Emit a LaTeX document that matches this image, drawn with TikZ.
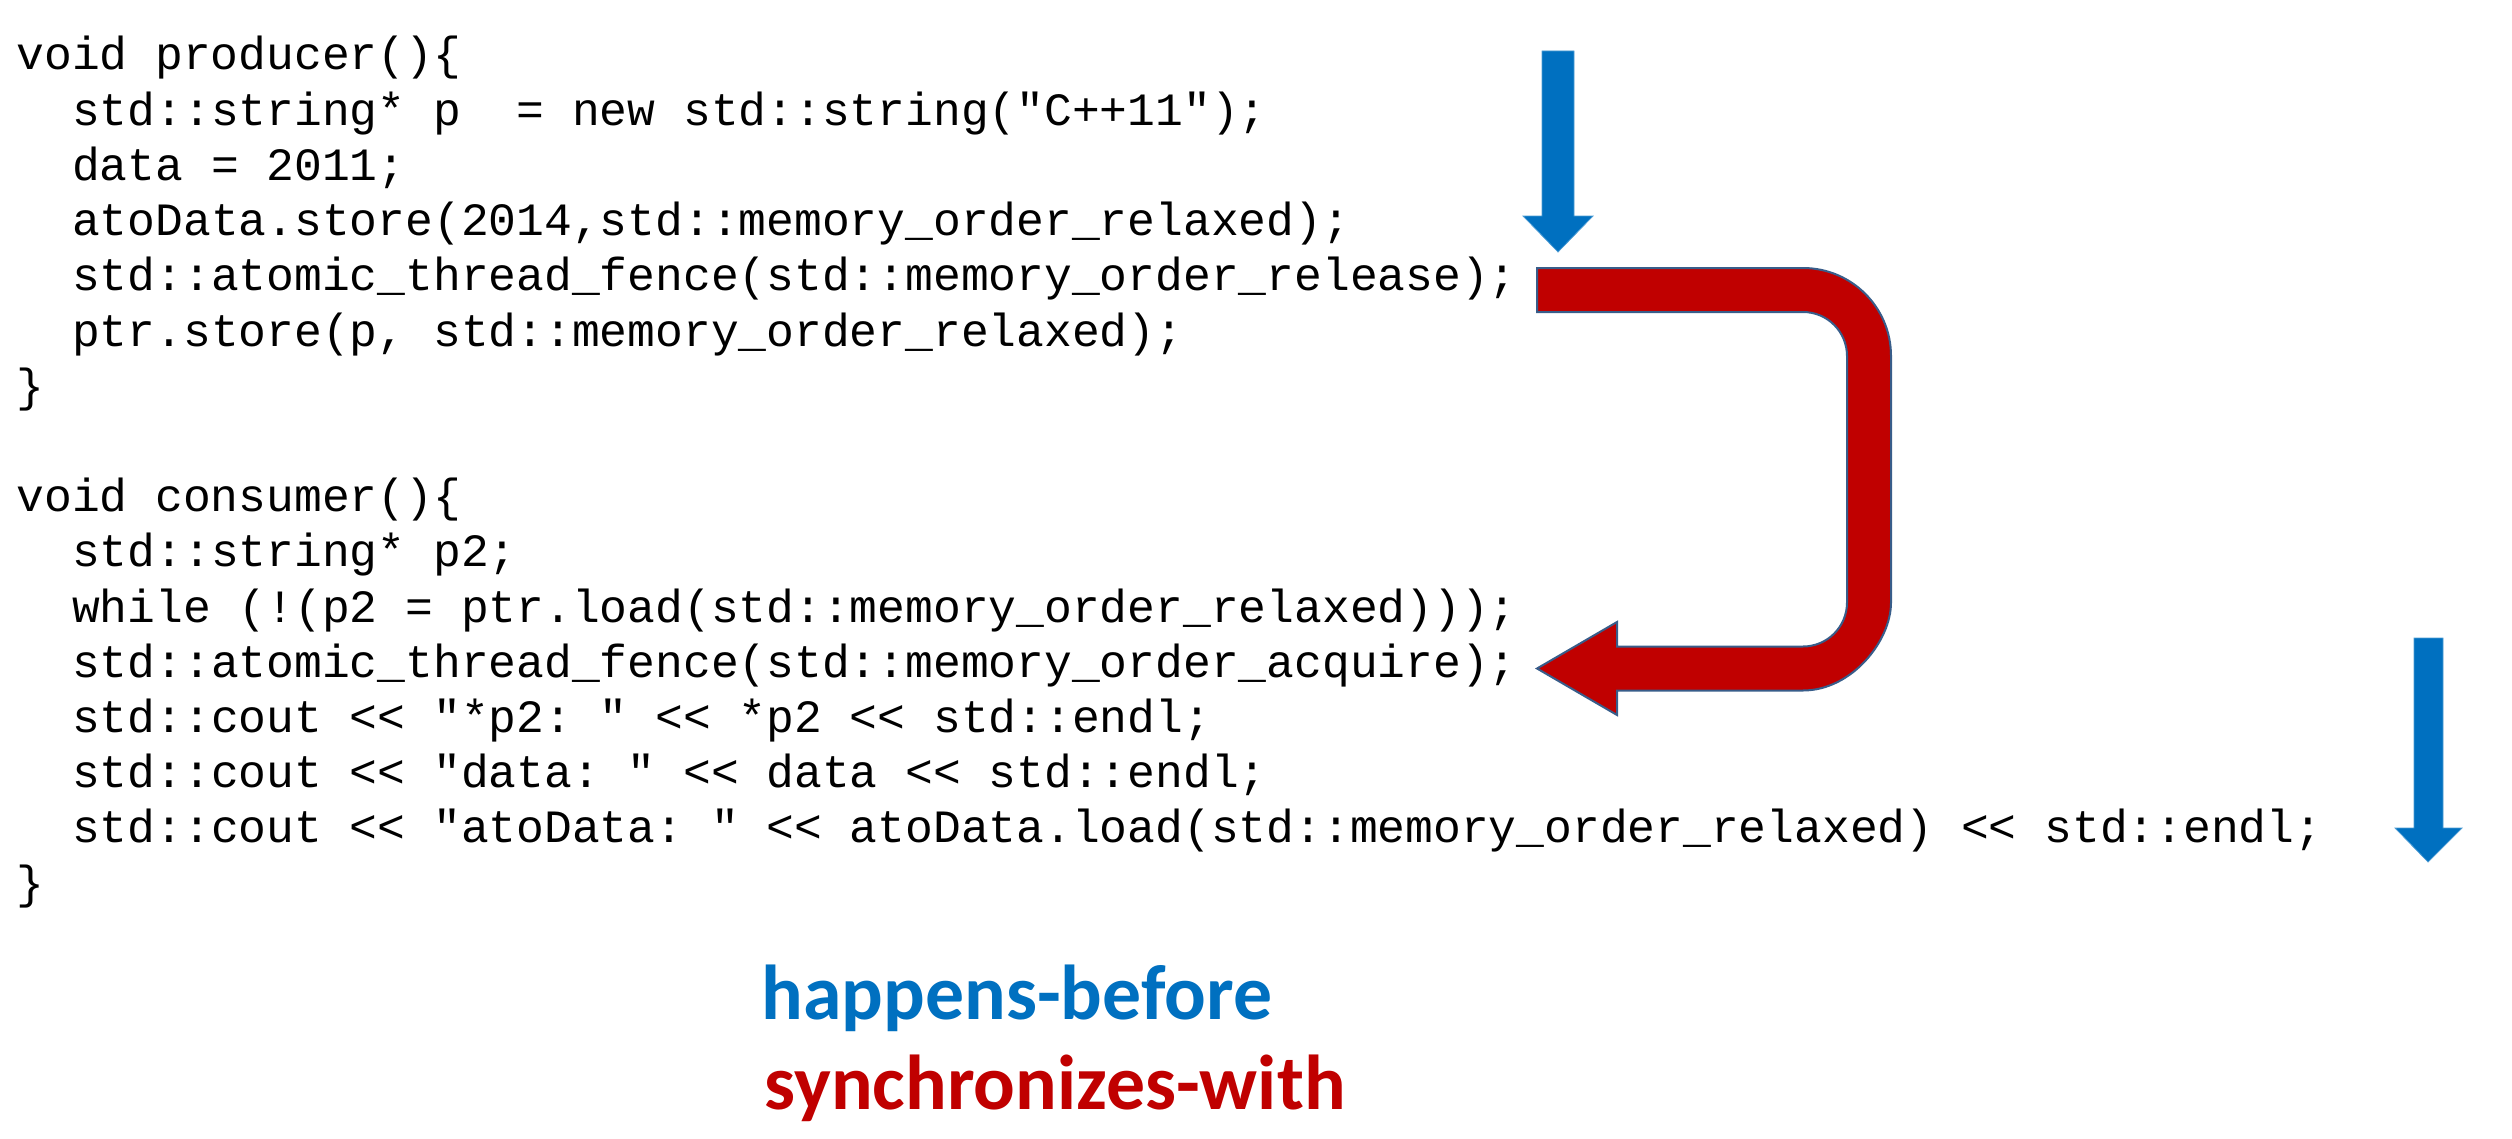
\documentclass[tikz,border=0pt]{standalone}
\usepackage{fontspec}
\newfontfamily\codefont{Liberation Mono}
\newfontfamily\labelfont{Carlito}
\definecolor{hbblue}{HTML}{0070C0}
\definecolor{swred}{HTML}{C00000}
\definecolor{swedge}{HTML}{385D8A}
\frenchspacing
\tikzset{
  codeline/.style={anchor=base west, inner sep=0pt, text=black,
    font=\codefont\fontsize{18.52pt}{22pt}\selectfont},
  legend/.style={anchor=base west, inner sep=0pt,
    font=\labelfont\bfseries\fontsize{31.1pt}{36pt}\selectfont},
  hbarrow/.style={fill=hbblue, draw=hbblue!70, line width=0.3pt},
  swarrow/.style={fill=swred, draw=swedge, line width=0.8pt, line join=miter}
}
\begin{document}
\begin{tikzpicture}[x=0.4pt, y=-0.4pt]
\useasboundingbox (0,0) rectangle (2512,1139);
\def\xa{16}
\def\xb{71.6}
% producer
\node[codeline] (l0)  at (\xa, 70) {void producer()\{};
\node[codeline] (l1)  at (\xb, 125.2) {std::string* p\ \ = new std::string("C++11");};
\node[codeline] (l2)  at (\xb, 180.4) {data = 2011;};
\node[codeline] (l3)  at (\xb, 235.6) {atoData.store(2014,std::memory\_order\_relaxed);};
\node[codeline] (l4)  at (\xb, 290.8) {std::atomic\_thread\_fence(std::memory\_order\_release);};
\node[codeline] (l5)  at (\xb, 346.0) {ptr.store(p, std::memory\_order\_relaxed);};
\node[codeline] (l6)  at (\xa, 401.2) {\}};
% consumer
\node[codeline] (l8)  at (\xa, 511.6) {void consumer()\{};
\node[codeline] (l9)  at (\xb, 566.8) {std::string* p2;};
\node[codeline] (l10) at (\xb, 622.0) {while (!(p2 = ptr.load(std::memory\_order\_relaxed)));};
\node[codeline] (l11) at (\xb, 677.2) {std::atomic\_thread\_fence(std::memory\_order\_acquire);};
\node[codeline] (l12) at (\xb, 732.4) {std::cout << "*p2: " << *p2 << std::endl;};
\node[codeline] (l13) at (\xb, 787.6) {std::cout << "data: " << data << std::endl;};
\node[codeline] (l14) at (\xb, 842.8) {std::cout << "atoData: " << atoData.load(std::memory\_order\_relaxed) << std::endl;};
\node[codeline] (l15) at (\xa, 898.0) {\}};

% happens-before arrows
\draw[hbarrow] (1542,51) -- (1574,51) -- (1574,216) -- (1593,216) -- (1558,252)
  -- (1523,216) -- (1542,216) -- cycle;
\draw[hbarrow] (2414,638) -- (2443,638) -- (2443,828) -- (2462,828) -- (2428,862)
  -- (2395,828) -- (2414,828) -- cycle;

% synchronizes-with arrow
\draw[swarrow] (1537,668.5) -- (1617,622) -- (1617,646.5) -- (1803,646.5)
  .. controls (1827.3,646.5) and (1847,626.8) .. (1847,602.5)
  -- (1847,356)
  .. controls (1847,331.7) and (1827.3,312) .. (1803,312)
  -- (1537,312) -- (1537,268) -- (1803,268)
  .. controls (1851.6,268) and (1891,307.4) .. (1891,356)
  -- (1891,602.5)
  .. controls (1891,641.1) and (1851.6,690.5) .. (1803,690.5)
  -- (1617,690.5) -- (1617,715) -- cycle;

% legend
\node[legend, text=hbblue] (hb) at (761,1019) {happens-before};
\node[legend, text=swred] (sw) at (764,1109) {synchronizes-with};
\end{tikzpicture}
\end{document}
